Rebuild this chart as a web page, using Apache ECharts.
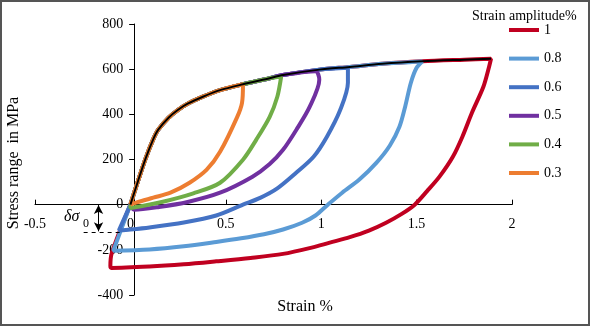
<!DOCTYPE html>
<html><head><meta charset="utf-8">
<script src="https://cdn.jsdelivr.net/npm/echarts@6/dist/echarts.min.js"></script>
<style>html,body{margin:0;padding:0;background:#fff}#c{width:591px;height:327px}</style>
</head><body><div id="c"></div>
<script>
// ---- data ----
const seriesNames = ['1', '0.8', '0.6', '0.5', '0.4', '0.3'];
const colors = ['#C00020', '#5B9BD5', '#4472C4', '#7030A0', '#70AD47', '#ED7D31'];
const xTicks = [-0.5, 0, 0.5, 1, 1.5, 2];
const yTicks = [-400, -200, 0, 200, 400, 600, 800];
// monotonic (backbone) curve, black
const backbone = [[0,0],[0.04,105],[0.08,205],[0.12,290],[0.146,332],[0.2,385],[0.25,420],[0.3,447],[0.38,478],[0.47,507],[0.59,533],[0.73,560],[0.8,574],[0.99,598],[1.15,610],[1.32,624],[1.53,635],[1.75,642],[1.89,646]];
// peaks of each loop
const peaks = [[1.89,646],[1.53,634],[1.14,606],[0.97,591],[0.79,566],[0.59,533]];
// unloading (lower) branches
const lower1  = [[1.88,611],[1.85,522],[1.79,407],[1.74,301],[1.69,212],[1.62,124],[1.555,60],[1.49,0],[1.42,-42],[1.34,-80],[1.25,-115],[1.15,-144],[1.045,-168],[0.95,-190],[0.80,-218],[0.63,-236],[0.45,-251],[0.28,-264],[0.10,-274],[-0.10,-280],[-0.105,-272],[-0.097,-212]];
const lower08 = [[1.50,606],[1.47,540],[1.44,434],[1.41,345],[1.36,262],[1.29,186],[1.20,111],[1.11,53],[1.035,0],[0.97,-48],[0.90,-80],[0.80,-110],[0.70,-131],[0.58,-149],[0.45,-165],[0.28,-184],[0.10,-198],[-0.09,-204]];
const lower06 = [[1.14,540],[1.10,420],[1.03,301],[0.96,212],[0.87,142],[0.77,72],[0.68,30],[0.59,0],[0.45,-48],[0.28,-79],[0.10,-101],[0,-110],[-0.06,-114]];
const lower05 = [[0.99,553],[0.94,434],[0.87,332],[0.80,243],[0.73,180],[0.64,124],[0.47,53],[0.30,12],[0.15,-10],[0.02,-22]];
const lower04 = [[0.77,478],[0.73,389],[0.66,288],[0.59,199],[0.47,97],[0.33,50],[0.17,13],[0.0,-15]];
const lower03 = [[0.585,451],[0.56,389],[0.47,234],[0.40,155],[0.31,97],[0.21,53],[0.12,31],[0.03,9]];
const lowers = [lower1, lower08, lower06, lower05, lower04, lower03];
// annotation (delta sigma_0)
const deltaSigma0 = -120;
const arrowX = -0.167;
const dashFrom = -0.245, dashTo = -0.04;
const annoTextPos = [-0.33, -53];
const annoSubPos = [-0.255, -85];

// ---- build ----
const serif = '"Liberation Serif", "Times New Roman", serif';
const loopSeries = seriesNames.map((name, i) => {
  const pk = peaks[i];
  const up = backbone.filter(p => p[0] < pk[0] - 0.03);
  return {
    name, type: 'line', data: up.concat([pk], lowers[i], [[0, 0]]),
    showSymbol: false, symbol: 'none', smooth: 0.3,
    lineStyle: { color: colors[i], width: 4 }, itemStyle: { color: colors[i] },
    z: 2 + i, silent: true
  };
});
const series = loopSeries.concat([
  { name: 'monotonic', type: 'line', data: backbone, showSymbol: false, symbol: 'none', smooth: 0.3,
    lineStyle: { color: '#000', width: 2 }, itemStyle: { color: '#000' }, z: 20, silent: true },
  { name: 'anno', type: 'line', data: [], z: 21, silent: true,
    markLine: { silent: true, animation: false, label: { show: false },
      data: [
        [{ coord: [arrowX, -2], symbol: 'arrow', symbolSize: [7, 9], lineStyle: { color: '#000', width: 1, type: 'solid' } },
         { coord: [arrowX, deltaSigma0 + 2], symbol: 'arrow', symbolSize: [7, 9] }],
        [{ coord: [dashFrom, deltaSigma0], symbol: 'none', lineStyle: { color: '#000', width: 1, type: [4, 4] } },
         { coord: [dashTo, deltaSigma0], symbol: 'none' }]
      ] } }
]);

const gridL = 35, gridR = 79, gridT = 24, gridB = 32, H = 327;
const chart = echarts.init(document.getElementById('c'));
chart.setOption({
  animation: false,
  backgroundColor: '#fff',
  grid: { left: gridL, right: gridR, top: gridT, bottom: gridB, containLabel: false },
  xAxis: { type: 'value', min: xTicks[0], max: xTicks[xTicks.length - 1], interval: 0.5,
    axisLine: { onZero: false, lineStyle: { color: '#000', width: 1 } },
    axisTick: { inside: true, length: 5, lineStyle: { color: '#000' } },
    axisLabel: { margin: 13, color: '#000', fontFamily: serif, fontSize: 14 },
    splitLine: { show: false } },
  yAxis: { type: 'value', min: yTicks[0], max: yTicks[yTicks.length - 1], interval: 200,
    axisLine: { onZero: false, lineStyle: { color: '#000', width: 1 } },
    axisTick: { inside: false, length: 5, lineStyle: { color: '#000' } },
    axisLabel: { margin: 11, color: '#000', fontFamily: serif, fontSize: 14 },
    splitLine: { show: false } },
  legend: { data: seriesNames, orient: 'vertical', left: 504, top: 18, icon: 'rect',
    itemWidth: 30, itemHeight: 4, itemGap: 14.6,
    textStyle: { fontFamily: serif, fontSize: 14, lineHeight: 14, color: '#000' } },
  graphic: [
    { id: 'border', type: 'rect', shape: { x: 1, y: 1, width: 588, height: 324 },
      style: { fill: 'none', stroke: '#555', lineWidth: 2 }, silent: true },
    { id: 'legTitle', type: 'text', x: 472, y: 16,
      style: { text: 'Strain amplitude%', font: '14px ' + serif, fill: '#000', textAlign: 'left', textVerticalAlign: 'middle' } },
    { id: 'xName', type: 'text', x: 305, y: 307,
      style: { text: 'Strain %', font: '16px ' + serif, fill: '#000', textAlign: 'center', textVerticalAlign: 'middle' } },
    { id: 'yName', type: 'text', x: 14, y: 163, rotation: Math.PI / 2,
      style: { text: 'Stress range  in MPa', font: '16px ' + serif, fill: '#000', textAlign: 'center', textVerticalAlign: 'middle' } }
  ],
  series
});
// place both axes through the origin (0,0) using offsets from the grid edges
const p0 = chart.convertToPixel({ gridIndex: 0 }, [0, 0]);
const pA = chart.convertToPixel({ gridIndex: 0 }, annoTextPos);
const pB = chart.convertToPixel({ gridIndex: 0 }, annoSubPos);
chart.setOption({
  xAxis: { offset: -((H - gridB) - p0[1]) },
  yAxis: { offset: -(p0[0] - gridL) },
  graphic: [
    { id: 'ds', type: 'text', x: pA[0], y: pA[1],
      style: { text: 'δσ', font: 'italic 16px ' + serif, fill: '#000', textAlign: 'center', textVerticalAlign: 'middle' } },
    { id: 'ds0', type: 'text', x: pB[0], y: pB[1],
      style: { text: '0', font: '12px ' + serif, fill: '#000', textAlign: 'center', textVerticalAlign: 'middle' } }
  ] });
</script></body></html>
